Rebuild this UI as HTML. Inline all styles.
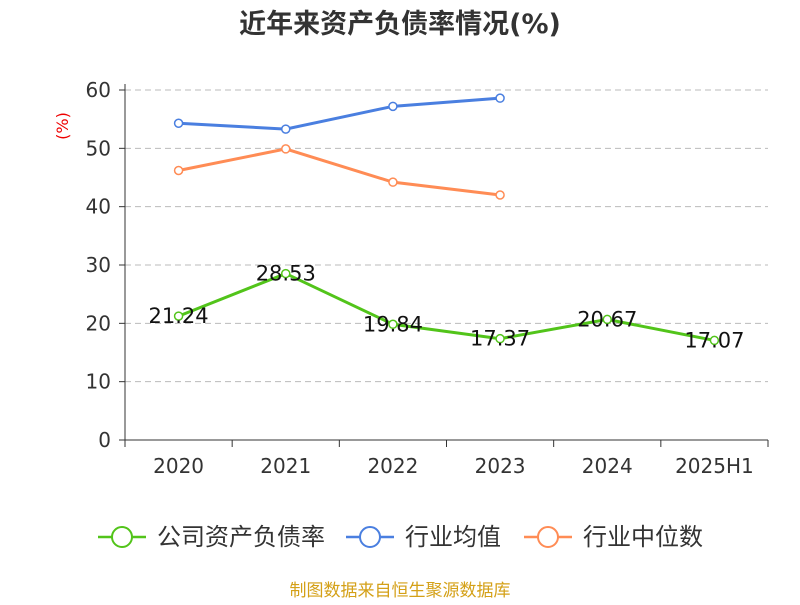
<!DOCTYPE html>
<html><head><meta charset="utf-8"><style>
body{margin:0;background:#fff;}
svg text{font-family:"DejaVu Sans","Noto Sans CJK SC",sans-serif;}
</style></head><body>
<svg id="c" width="800" height="600" xmlns="http://www.w3.org/2000/svg">
<text x="400" y="33" text-anchor="middle" font-size="27" font-weight="bold" fill="#333">近年来资产负债率情况(%)</text>
<text x="0" y="0" transform="translate(68,126) rotate(-90)" text-anchor="middle" font-size="16" fill="#e00">(%)</text>
<g id="grid"></g><g id="axes"></g><g id="series"></g>
<g>
<g><line x1="98" y1="537" x2="146" y2="537" stroke="#52c41a" stroke-width="2.5"/><circle cx="122" cy="537" r="10" fill="#fff" stroke="#52c41a" stroke-width="2"/><text x="157" y="545" font-size="24" fill="#333">公司资产负债率</text></g>
<g><line x1="346" y1="537" x2="394" y2="537" stroke="#4a7fe0" stroke-width="2.5"/><circle cx="370" cy="537" r="10" fill="#fff" stroke="#4a7fe0" stroke-width="2"/><text x="405" y="545" font-size="24" fill="#333">行业均值</text></g>
<g><line x1="524" y1="537" x2="572" y2="537" stroke="#ff8c55" stroke-width="2.5"/><circle cx="548" cy="537" r="10" fill="#fff" stroke="#ff8c55" stroke-width="2"/><text x="583" y="545" font-size="24" fill="#333">行业中位数</text></g>
</g>
<text x="400" y="596" text-anchor="middle" font-size="17" fill="#d4a017">制图数据来自恒生聚源数据库</text>
</svg>
<script>
const categories=["2020","2021","2022","2023","2024","2025H1"];
const company=[21.24,28.53,19.84,17.37,20.67,17.07];
const industryAvg=[54.3,53.3,57.2,58.6,null,null];
const industryMedian=[46.2,49.9,44.2,42.0,null,null];
const yTicks=[0,10,20,30,40,50,60];
const NS="http://www.w3.org/2000/svg";
const x0=125,x1=768,y0=440,y1=90,yMax=60;
const bw=(x1-x0)/categories.length;
const xs=i=>x0+bw*(i+0.5);
const ys=v=>y0-(v/yMax)*(y0-y1);
function mk(t,a,p){const e=document.createElementNS(NS,t);for(const k in a)e.setAttribute(k,a[k]);p.appendChild(e);return e;}
const grid=document.getElementById('grid'),axes=document.getElementById('axes'),ser=document.getElementById('series');
yTicks.forEach(v=>{
 if(v>0){const g=mk('line',{x1:x0,x2:x1,y1:ys(v),y2:ys(v),stroke:'#bbb','stroke-dasharray':'6,4'},grid);
 
 }
 const tk=mk('line',{x1:x0-6,x2:x0,y1:ys(v),y2:ys(v),stroke:'#333'},axes);
 
 
 const t=mk('text',{x:x0-14,y:ys(v)+7,'text-anchor':'end','font-size':20,fill:'#333'},axes);t.textContent=v;
 
 
});
const ya=mk('line',{x1:x0,x2:x0,y1:y1-6,y2:y0,stroke:'#333'},axes);


const xa=mk('line',{x1:x0,x2:x1,y1:y0,y2:y0,stroke:'#333'},axes);


for(let i=0;i<=categories.length;i++){const tk=mk('line',{x1:x0+bw*i,x2:x0+bw*i,y1:y0,y2:y0+7,stroke:'#333'},axes);
 
 }
categories.forEach((c,i)=>{const t=mk('text',{x:xs(i),y:y0+33,'text-anchor':'middle','font-size':20,fill:'#333'},axes);t.textContent=c;
 
 });
function line(arr,color,name,labels){
 const pts=[];arr.forEach((v,i)=>{if(v!=null)pts.push([xs(i),ys(v),v]);});
 const p=mk('polyline',{points:pts.map(q=>q[0]+','+q[1]).join(' '),fill:'none',stroke:color,'stroke-width':3},ser);
 
 
 pts.forEach(q=>{const c=mk('circle',{cx:q[0],cy:q[1],r:4,fill:'#fff',stroke:color,'stroke-width':1.5},ser);
  
  
  if(labels){const t=mk('text',{x:q[0],y:q[1]+7,'text-anchor':'middle','font-size':21,fill:'#111'},ser);t.textContent=q[2].toFixed(2);
   
   }
 });
}
line(industryAvg,'#4a7fe0','industry-avg',false);
line(industryMedian,'#ff8c55','industry-median',false);
line(company,'#52c41a','company',true);
</script>
</body></html>
